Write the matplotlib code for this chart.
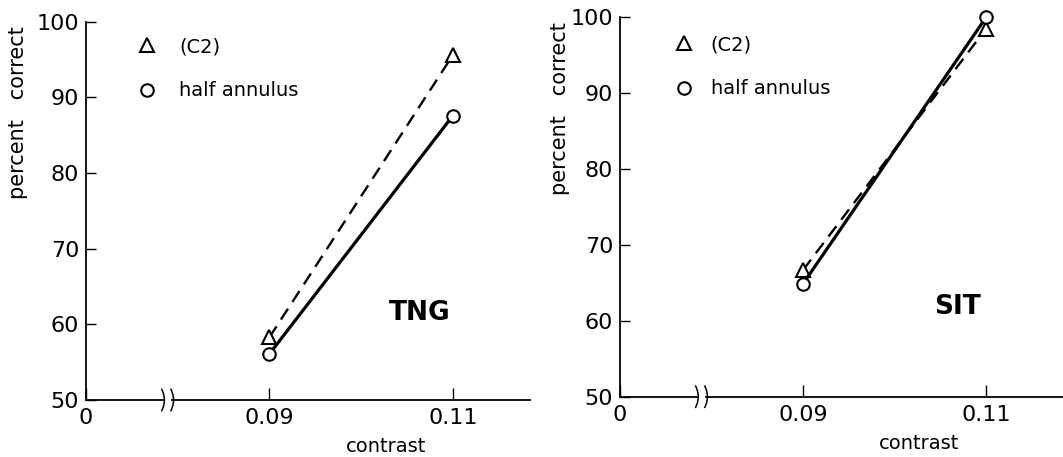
import numpy as np
import matplotlib
matplotlib.use("Agg")
import matplotlib.pyplot as plt
from matplotlib.lines import Line2D

# ---- data ----
contrast = [0.09, 0.11]
tng_c2 = [58.3, 95.6]
tng_half = [56.1, 87.6]
sit_c2 = [66.7, 98.5]
sit_half = [64.9, 100.0]
panel_names = ["TNG", "SIT"]
xtick_vals = [0.0, 0.09, 0.11]
xtick_labels = ["0", "0.09", "0.11"]
ytick_vals = [50, 60, 70, 80, 90, 100]
legend_labels = ["(C2)", "half annulus"]

# broken x-axis: 0 -> 0, 0.09 -> 1, 0.11 -> 2 (linear beyond)
def fwd(x):
    x = np.asarray(x, dtype=float)
    return np.where(x <= 0.09, x / 0.09, 1.0 + (x - 0.09) / 0.02)

def inv(p):
    p = np.asarray(p, dtype=float)
    return np.where(p <= 1.0, p * 0.09, 0.09 + (p - 1.0) * 0.02)

plt.rcParams['font.family'] = ['DejaVu Sans']
fig = plt.figure(figsize=(10.63, 4.57), dpi=100)

axes_rects = [[0.0809, 0.1247, 0.4177, 0.8278], [0.5833, 0.1319, 0.4167, 0.8302]]
series = [(tng_c2, tng_half), (sit_c2, sit_half)]
name_pos = [(0.752, 0.23), (0.761, 0.236)]
ylab_x = [-0.153, -0.135]
leg_anchor = [(0.09, 0.99), (0.095, 0.984)]
leg_pad = [1.15, 0.9]

for i in range(2):
    ax = fig.add_axes(axes_rects[i])
    ax.set_xscale('function', functions=(fwd, inv))
    c2, half = series[i]
    ax.plot(contrast, c2, linestyle=(0, (5.5, 3.4)), color='black', lw=1.7,
            marker='^', ms=10, mfc='white', mec='black', mew=1.5, zorder=3, clip_on=False)
    ax.plot(contrast, half, linestyle='-', color='black', lw=2.3,
            marker='o', ms=9, mfc='white', mec='black', mew=1.5, zorder=4, clip_on=False)
    xmax = 0.09 + 1.42 * 0.02
    ax.set_xlim(0, xmax)
    ax.set_ylim(50, 100)
    ax.set_xticks(xtick_vals)
    ax.set_xticklabels(xtick_labels)
    ax.set_yticks(ytick_vals)
    ax.tick_params(axis='y', direction='in', length=7, width=1.0, pad=5, labelsize=16)
    ax.tick_params(axis='x', direction='in', length=9, width=1.0, pad=6, labelsize=16)
    for s in ['top', 'right']:
        ax.spines[s].set_visible(False)
    ax.spines['left'].set_linewidth(1.3)
    # bottom spine only to the right of the break
    b_left, b_right = inv(0.42), inv(0.47)
    ax.spines['bottom'].set_bounds(float(b_right), xmax)
    ax.spines['bottom'].set_linewidth(1.3)
    trans = ax.get_xaxis_transform()
    ax.plot([0, float(b_left)], [0, 0], color='black', lw=1.3, transform=trans, clip_on=False)
    # break marks: two small curves
    t = np.linspace(-1, 1, 30)
    for pb in (0.42, 0.47):
        px = pb + 0.014 * (1 - t ** 2) - 0.007
        ax.plot(inv(px), t * 0.028, color='black', lw=1.1, transform=trans, clip_on=False)

    ax.set_ylabel("percent   correct", fontsize=15)
    ax.yaxis.label.set_va('center')
    ax.yaxis.set_label_coords(ylab_x[i], 0.76)
    ax.set_xlabel("contrast", fontsize=14)
    ax.xaxis.label.set_va('center')
    ax.xaxis.set_label_coords(0.675, -0.123)

    ax.text(name_pos[i][0], name_pos[i][1], panel_names[i], transform=ax.transAxes,
            fontsize=19, fontweight='bold', ha='center', va='center')

    handles = [Line2D([], [], linestyle='none', marker='^', ms=10, mfc='white', mec='black', mew=1.5),
               Line2D([], [], linestyle='none', marker='o', ms=9, mfc='white', mec='black', mew=1.5)]
    ax.legend(handles, legend_labels, loc='upper left', bbox_to_anchor=leg_anchor[i],
              frameon=False, fontsize=14, handlelength=1.0, handletextpad=leg_pad[i],
              labelspacing=1.3, borderaxespad=0.2)

fig.savefig("out.png", dpi=100)
